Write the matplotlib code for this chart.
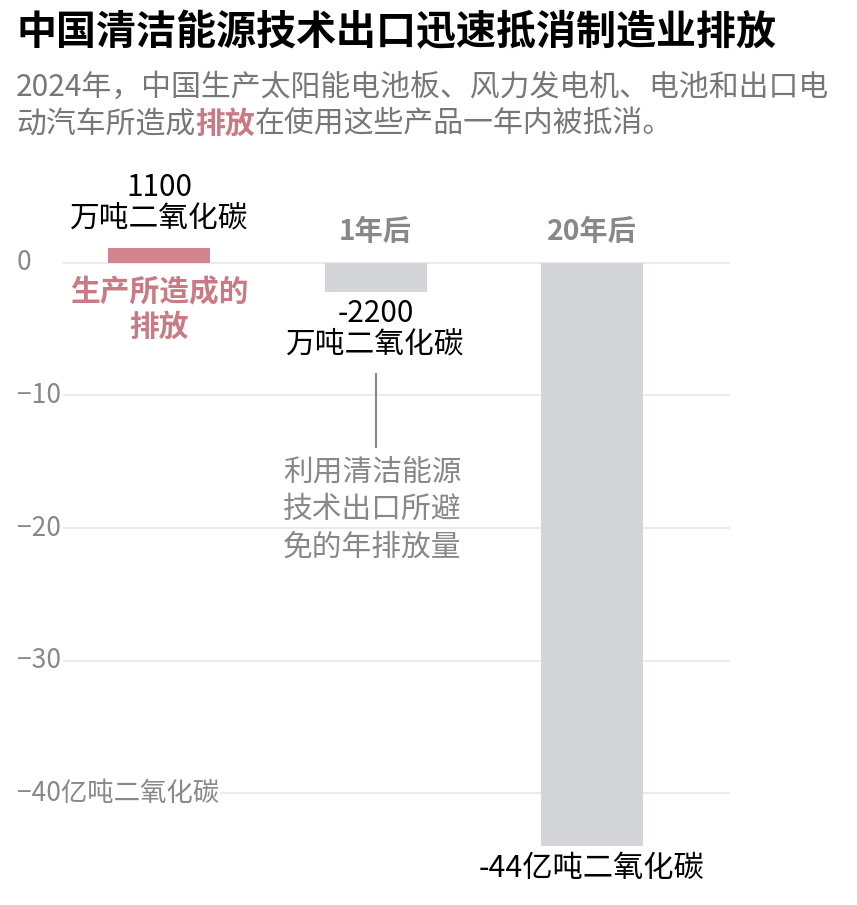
import matplotlib
matplotlib.use('Agg')
import matplotlib.pyplot as plt
import matplotlib.transforms as mtransforms

plt.rcParams['font.family'] = ['Noto Sans CJK SC', 'DejaVu Sans']

# data (units as drawn on the chart)
labels = ['生产所造成的排放', '1年后', '20年后']
values = [1.1, -2.2, -44]
barColors = ['#d3848c', '#d3d5d9', '#d3d5d9']
yTicks = [0, -10, -20, -30, -40]
yTickLabels = ['0', '−10', '−20', '−30', '−40亿吨二氧化碳']

title = '中国清洁能源技术出口迅速抵消制造业排放'
subLine1 = '2024年，中国生产太阳能电池板、风力发电机、电池和出口电'
subLine2a = '动汽车所造成'
subLine2b = '排放'
subLine2c = '在使用这些产品一年内被抵消。'

W, H = 857, 905
pink = '#c97a84'
grey = '#888888'

fig = plt.figure(figsize=(W / 100.0, H / 100.0), dpi=100)

# axes placed in pixel terms: zero line at y=263px, 13.25px per unit
axLeft, axRight, axTop, axBottom = 63, 730, 160, 900
ax = fig.add_axes([axLeft / W, 1 - axBottom / H, (axRight - axLeft) / W, (axBottom - axTop) / H])
pxPerUnit = 13.25
zeroPx = 263
ax.set_ylim(-(axBottom - zeroPx) / pxPerUnit, (zeroPx - axTop) / pxPerUnit)
barStep = 216.5
ax.set_xlim((axLeft - 159) / barStep, (axRight - 159) / barStep)
ax.axis('off')

for t in yTicks:
    ax.axhline(t, color='#ebebeb', lw=1.5, zorder=0)

xs = list(range(len(values)))
ax.bar(xs, values, width=102 / barStep, color=barColors, zorder=2)

# y tick labels, left of the axes
trans = mtransforms.blended_transform_factory(fig.transFigure, ax.transData)
for t, lab in zip(yTicks, yTickLabels):
    ax.text(17 / W, t, lab, transform=trans, ha='left', va='center', fontsize=19,
            color=grey, bbox=dict(facecolor='white', edgecolor='none', pad=1), zorder=3)

def yd(px):
    return (zeroPx - px) / pxPerUnit

annSize = 21.4
# first bar annotations
ax.text(xs[0], yd(187), '%d' % round(values[0] * 1000), ha='center', va='center', fontsize=annSize, color='black')
ax.text(xs[0], yd(218), '万吨二氧化碳', ha='center', va='center', fontsize=annSize, color='black')
ax.text(xs[0], yd(292), '生产所造成的', ha='center', va='center', fontsize=annSize, color=pink, fontweight='bold')
ax.text(xs[0], yd(327), '排放', ha='center', va='center', fontsize=annSize, color=pink, fontweight='bold')

# column headers
ax.text(xs[1], yd(232), labels[1], ha='center', va='center', fontsize=20.3, color=grey, fontweight='bold')
ax.text(xs[2], yd(232), labels[2], ha='center', va='center', fontsize=20.3, color=grey, fontweight='bold')

# second bar annotations
ax.text(xs[1], yd(313), '-%d' % round(-values[1] * 1000), ha='center', va='center', fontsize=annSize, color='black')
ax.text(xs[1], yd(344), '万吨二氧化碳', ha='center', va='center', fontsize=annSize, color='black')
ax.plot([xs[1], xs[1]], [yd(374), yd(447)], color=grey, lw=1.5, zorder=3)
noteX = (283 - 159) / barStep
for i, line in enumerate(['利用清洁能源', '技术出口所避', '免的年排放量']):
    ax.text(noteX, yd(472 + 37.5 * i), line, ha='left', va='center', fontsize=annSize, color=grey, zorder=3)

# third bar annotation
ax.text(xs[2], yd(868), '%d亿吨二氧化碳' % values[2], ha='center', va='center', fontsize=21.8, color='black')

# title and subtitle
fig.text(17 / W, 1 - 33 / H, title, ha='left', va='center', fontsize=28.8, fontweight='bold', color='black')
subSize = 21.5
em = subSize * 100 / 72.0
fig.text(16 / W, 1 - 87 / H, subLine1, ha='left', va='center', fontsize=subSize, color='#777777')
fig.text(16 / W, 1 - 124 / H, subLine2a, ha='left', va='center', fontsize=subSize, color='#777777')
fig.text((16 + em * len(subLine2a)) / W, 1 - 124 / H, subLine2b, ha='left', va='center',
         fontsize=subSize, color=pink, fontweight='bold')
fig.text((16 + em * (len(subLine2a) + len(subLine2b))) / W, 1 - 124 / H, subLine2c, ha='left',
         va='center', fontsize=subSize, color='#777777')

fig.savefig('out.png', dpi=100, facecolor='white')
